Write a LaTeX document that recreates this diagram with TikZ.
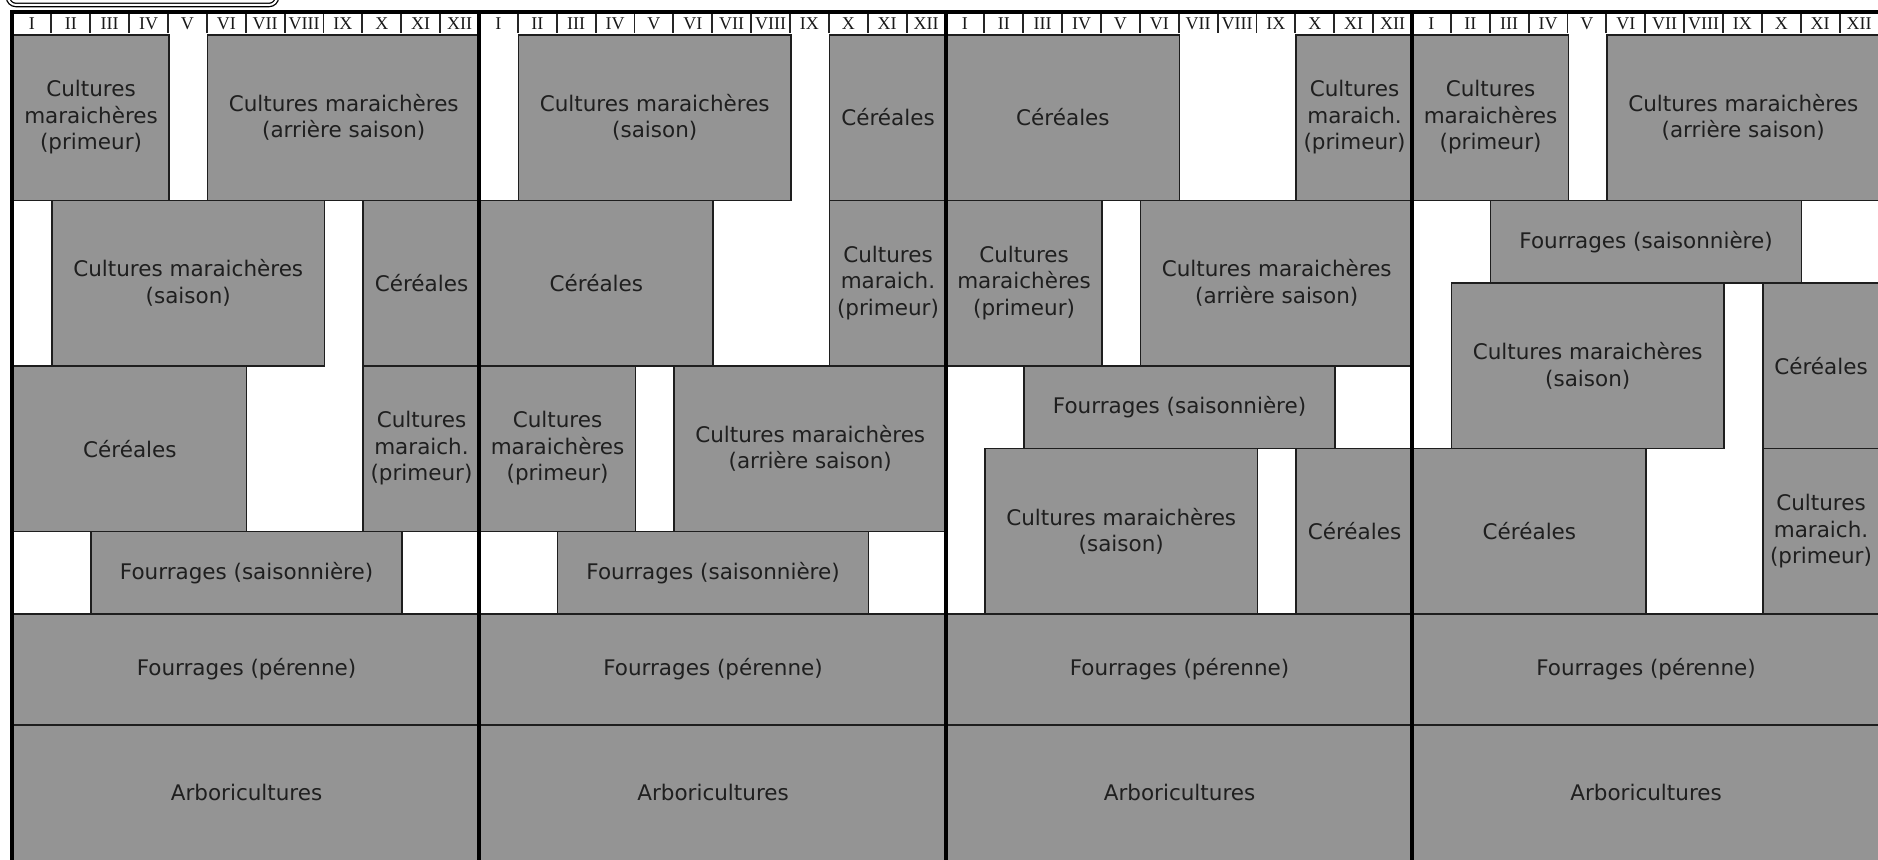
\documentclass[tikz,border=0pt]{standalone}
\usepackage{fontspec}
\setmainfont{DejaVu Sans}
\newfontfamily\hdrfont{Liberation Serif}
\definecolor{boxgray}{RGB}{148,148,148}
\definecolor{edgecol}{RGB}{30,30,30}
\tikzset{
  cropbox/.style={draw=edgecol, line width=1.6pt, fill=boxgray, align=center,
    inner sep=0pt, text=black!88, font=\fontsize{21.5}{26.5}\selectfont, anchor=north west},
  monthlbl/.style={font=\hdrfont\fontsize{18}{20}\selectfont, inner sep=0pt, text=black!90},
  monthtick/.style={draw=black!85, line width=1.8pt},
  panelsep/.style={line width=4pt, draw=black},
  tabframe/.style={draw=black, double=white, double distance=2pt, line width=1.3pt, rounded corners=8pt},
}
% name, panel(0-3), month start, month end, y top, y bottom, text
\newcommand\plantbox[7]{%
  \pgfmathsetmacro\bxx{12.5+466.5*#2+38.875*#3}%
  \pgfmathsetmacro\bxw{38.875*(#4-#3)}%
  \pgfmathsetmacro\bxh{#6-#5}%
  \node[cropbox, minimum width=\bxw pt, minimum height=\bxh pt] (#1) at (\bxx,#5) {#7};%
}
\begin{document}
\begin{tikzpicture}[x=1pt,y=-1pt]
\useasboundingbox (0,0) rectangle (1878,859);
\clip (0,0) rectangle (1878,859);
\fill[white] (0,0) rectangle (1878,859);

% panel 1
\plantbox{a1}{0}{0}{4}{34}{199.5}{Cultures\\maraichères\\(primeur)}
\plantbox{a2}{0}{5}{12}{34}{199.5}{Cultures maraichères\\(arrière saison)}
\plantbox{a3}{0}{1}{8}{199.5}{365}{Cultures maraichères\\(saison)}
\plantbox{a4}{0}{9}{12}{199.5}{365}{Céréales}
\plantbox{a5}{0}{0}{6}{365}{530.5}{Céréales}
\plantbox{a6}{0}{9}{12}{365}{530.5}{Cultures\\maraich.\\(primeur)}
\plantbox{a7}{0}{2}{10}{530.5}{613.25}{Fourrages (saisonnière)}
\plantbox{a8}{0}{0}{12}{613.25}{724}{Fourrages (pérenne)}
\plantbox{a9}{0}{0}{12}{724}{860}{Arboricultures}

% panel 2
\plantbox{b1}{1}{1}{8}{34}{199.5}{Cultures maraichères\\(saison)}
\plantbox{b2}{1}{9}{12}{34}{199.5}{Céréales}
\plantbox{b3}{1}{0}{6}{199.5}{365}{Céréales}
\plantbox{b4}{1}{9}{12}{199.5}{365}{Cultures\\maraich.\\(primeur)}
\plantbox{b5}{1}{0}{4}{365}{530.5}{Cultures\\maraichères\\(primeur)}
\plantbox{b6}{1}{5}{12}{365}{530.5}{Cultures maraichères\\(arrière saison)}
\plantbox{b7}{1}{2}{10}{530.5}{613.25}{Fourrages (saisonnière)}
\plantbox{b8}{1}{0}{12}{613.25}{724}{Fourrages (pérenne)}
\plantbox{b9}{1}{0}{12}{724}{860}{Arboricultures}

% panel 3
\plantbox{c1}{2}{0}{6}{34}{199.5}{Céréales}
\plantbox{c2}{2}{9}{12}{34}{199.5}{Cultures\\maraich.\\(primeur)}
\plantbox{c3}{2}{0}{4}{199.5}{365}{Cultures\\maraichères\\(primeur)}
\plantbox{c4}{2}{5}{12}{199.5}{365}{Cultures maraichères\\(arrière saison)}
\plantbox{c5}{2}{2}{10}{365}{447.75}{Fourrages (saisonnière)}
\plantbox{c6}{2}{1}{8}{447.75}{613.25}{Cultures maraichères\\(saison)}
\plantbox{c7}{2}{9}{12}{447.75}{613.25}{Céréales}
\plantbox{c8}{2}{0}{12}{613.25}{724}{Fourrages (pérenne)}
\plantbox{c9}{2}{0}{12}{724}{860}{Arboricultures}

% panel 4
\plantbox{d1}{3}{0}{4}{34}{199.5}{Cultures\\maraichères\\(primeur)}
\plantbox{d2}{3}{5}{12}{34}{199.5}{Cultures maraichères\\(arrière saison)}
\plantbox{d3}{3}{2}{10}{199.5}{282.25}{Fourrages (saisonnière)}
\plantbox{d4}{3}{1}{8}{282.25}{447.75}{Cultures maraichères\\(saison)}
\plantbox{d5}{3}{9}{12}{282.25}{447.75}{Céréales}
\plantbox{d6}{3}{0}{6}{447.75}{613.25}{Céréales}
\plantbox{d7}{3}{9}{12}{447.75}{613.25}{Cultures\\maraich.\\(primeur)}
\plantbox{d8}{3}{0}{12}{613.25}{724}{Fourrages (pérenne)}
\plantbox{d9}{3}{0}{12}{724}{860}{Arboricultures}

% month header
\foreach \p in {0,...,3} {
  \foreach \r [count=\m] in {I,II,III,IV,V,VI,VII,VIII,IX,X,XI,XII} {
    \pgfmathsetmacro\xc{12.5+466.5*\p+38.875*(\m-0.5)}
    \node[monthlbl] (h\p-\m) at (\xc,24) {\r};
  }
  \foreach \k in {1,...,12} {
    \pgfmathsetmacro\xt{12.5+466.5*\p+38.875*\k}
    \draw[monthtick] (\xt,13) -- (\xt,33);
  }
}

% frame and panel separators
\draw[panelsep] (10,12) -- (1878,12);
\draw[panelsep] (12,10) -- (12,860);
\foreach \p in {1,2,3} {
  \pgfmathsetmacro\xs{12.5+466.5*\p}
  \draw[panelsep] (\xs,12) -- (\xs,860);
}

% title tab (cut off at the top)
\draw[tabframe] (8,-30) rectangle (277,5);
\end{tikzpicture}
\end{document}
